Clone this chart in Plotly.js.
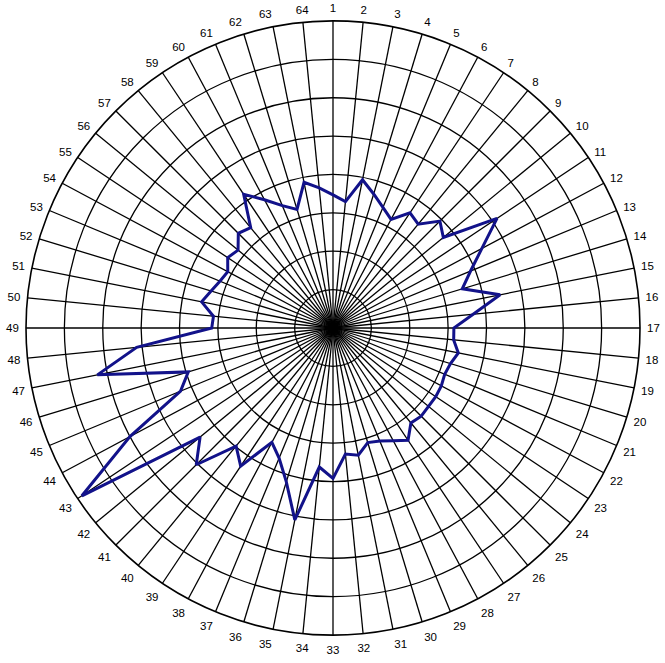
<!DOCTYPE html>
<html>
<head>
<meta charset="utf-8">
<script src="https://cdn.plot.ly/plotly-3.0.1.min.js"></script>
<style>html,body{margin:0;padding:0;background:#fff;}#chart{width:665px;height:663px;}</style>
</head>
<body>
<div id="chart"></div>
<script>
var categories = ['1','2','3','4','5','6','7','8','9','10','11','12','13','14','15','16',
  '17','18','19','20','21','22','23','24','25','26','27','28','29','30','31','32',
  '33','34','35','36','37','38','39','40','41','42','43','44','45','46','47','48',
  '49','50','51','52','53','54','55','56','57','58','59','60','61','62','63','64'];

var values = [3.47, 3.31, 3.94, 3.65, 3.40, 3.21, 3.61, 3.50, 3.94, 3.72, 5.14, 4.40, 3.88, 3.52, 4.44, 3.67,
  3.15, 3.16, 3.33, 3.20, 3.15, 3.20, 3.22, 3.22, 3.25, 3.20, 3.52, 3.33, 3.19, 3.12, 3.38, 3.30,
  3.92, 3.64, 5.10, 4.19, 3.67, 3.38, 4.33, 3.98, 5.04, 4.48, 7.87, 6.00, 4.30, 3.94, 6.26, 5.14,
  3.16, 3.13, 3.49, 3.32, 3.19, 3.11, 3.30, 3.20, 3.49, 3.38, 4.19, 3.79, 3.45, 3.23, 3.87, 3.67];

var radialRange = [0, 8];

var trace = {
  type: 'scatterpolar',
  mode: 'lines',
  r: values.concat([values[0]]),
  theta: categories.concat([categories[0]]),
  line: {color: '#12128a', width: 3},
  hoverinfo: 'skip'
};

var W = 665, H = 663, cx = 333, cy = 328, R = 307;
var layout = {
  width: W, height: H,
  margin: {l: 0, r: 0, t: 0, b: 0},
  paper_bgcolor: '#ffffff',
  showlegend: false,
  font: {family: 'Arial, "Liberation Sans", sans-serif', size: 11.5, color: '#000'},
  polar: {
    domain: {x: [(cx - R) / W, (cx + R) / W], y: [(H - cy - R) / H, (H - cy + R) / H]},
    bgcolor: '#ffffff',
    angularaxis: {
      type: 'category',
      categoryorder: 'array',
      categoryarray: categories,
      direction: 'clockwise',
      rotation: 90,
      showgrid: true,
      gridcolor: '#000000',
      gridwidth: 1.3,
      showline: true,
      linecolor: '#000000',
      linewidth: 1.6,
      ticks: 'outside',
      ticklen: 4,
      tickcolor: 'rgba(0,0,0,0)',
      tickfont: {size: 11.5, color: '#000'}
    },
    radialaxis: {
      range: radialRange,
      dtick: 1,
      tick0: 0,
      showticklabels: false,
      ticks: '',
      showline: false,
      showgrid: true,
      gridcolor: '#000000',
      gridwidth: 1.3
    }
  }
};

Plotly.newPlot('chart', [trace], layout, {staticPlot: true, displayModeBar: false});
</script>
</body>
</html>
